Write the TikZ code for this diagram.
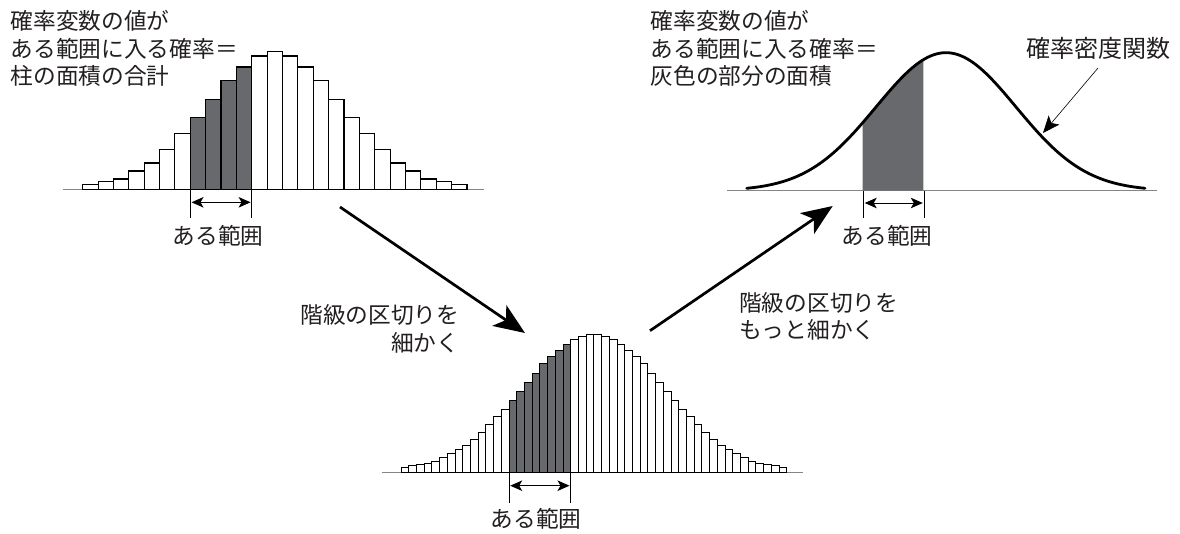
\documentclass[tikz,border=0pt]{standalone}
\usepackage{fontspec}
\setmainfont{Noto Sans CJK JP}
\usetikzlibrary{arrows.meta}
\definecolor{barfill}{HTML}{68696D}
\definecolor{axisgrey}{HTML}{858585}
\definecolor{ink}{HTML}{231F20}
\tikzset{
  lbl/.style={font=\fontsize{22.7}{27.5}\selectfont, text=ink, inner sep=0pt, text height=19.9pt, text depth=2.7pt},
  bar/.style={draw=black, line width=1.1pt, fill=white},
  darkbar/.style={draw=black, line width=1.1pt, fill=barfill},
  axisline/.style={draw=axisgrey, line width=1.3pt},
  rangeline/.style={draw=black, line width=0.9pt},
  rangearrow/.style={line width=1pt, {Stealth[length=12pt,width=10.5pt,inset=3pt]}-{Stealth[length=12pt,width=10.5pt,inset=3pt]}},
  bigarrow/.style={line width=2.7pt, -{Stealth[length=31pt,width=25pt,inset=8pt]}},
  thinarrow/.style={line width=0.6pt, -{Stealth[length=17pt,width=14pt,inset=4pt]}},
  densitycurve/.style={line width=2.8pt, line cap=round},
}
\begin{document}
\begin{tikzpicture}[x=1pt,y=-1pt]
\useasboundingbox (0,0) rectangle (1180,533);

% ---------- histogram 1 ----------
\draw[axisline] (63,189.7) -- (484,189.7);
\foreach \h [count=\i] in {5.3,8,10.7,18.7,26.7,40.3,56,72,90.3,109.3,122.7,133.7,138.3,133.7,122.7,109.3,90.3,72,56,40.3,26.7,18.7,10.7,8,5.3} {
  \pgfmathsetmacro\xa{82.7+(\i-1)*15.37}
  \pgfmathtruncatemacro\dk{and(\i>7,\i<12)}
  \ifnum\dk=1 \def\sty{darkbar}\else\def\sty{bar}\fi
  \draw[\sty] (\xa,189.7) rectangle ++(15.37,-\h);
}
\coordinate (r1a) at (190.3,189.7);
\coordinate (r1b) at (251.8,189.7);
\coordinate (r1c) at (190.3,218);
\coordinate (r1d) at (251.8,218);
\draw[rangeline] (r1a) -- (r1c);
\draw[rangeline] (r1b) -- (r1d);
\coordinate (r1l) at (191.5,202.3);
\coordinate (r1r) at (250.6,202.3);
\draw[rangearrow] (r1l) -- (r1r);
\node[lbl] (range1) at (218,236) {ある範囲};

% ---------- histogram 2 ----------
\draw[axisline] (381.7,472.3) -- (802.7,472.3);
\foreach \h [count=\i] in {5,6.7,8.3,9.3,11,14.7,19,22.7,27,33,40,47.7,55.7,63,71.7,81,90.3,99,109,115.7,122.3,128,133,136.3,138.3,138.3,136.3,133,128,122.3,115.7,109,99,90.3,81,71.7,63,55.7,47.7,40,33,27,22.7,19,14.7,11,9.3,8.3,6.7,5} {
  \pgfmathsetmacro\xa{401+(\i-1)*7.715}
  \pgfmathtruncatemacro\dk{and(\i>14,\i<23)}
  \ifnum\dk=1 \def\sty{darkbar}\else\def\sty{bar}\fi
  \draw[\sty, line width=0.9pt] (\xa,472.3) rectangle ++(7.715,-\h);
}
\coordinate (r2a) at (509,472.3);
\coordinate (r2b) at (570.7,472.3);
\coordinate (r2c) at (509,502.7);
\coordinate (r2d) at (570.7,502.7);
\draw[rangeline] (r2a) -- (r2c);
\draw[rangeline] (r2b) -- (r2d);
\coordinate (r2l) at (510.2,485.7);
\coordinate (r2r) at (569.5,485.7);
\draw[rangearrow] (r2l) -- (r2r);
\node[lbl] (range2) at (536,519) {ある範囲};

% ---------- density curve ----------
\draw[axisline] (727,190.7) -- (1157,190.7);
\fill[barfill] plot[domain=-1.19:-0.324, samples=40] ({946+70*\x}, {190.7-138*exp(-\x*\x/2)}) -- (923.3,190.7) -- (862.7,190.7) -- cycle;
\draw[densitycurve] plot[domain=-2.847:2.843, samples=160, smooth] ({946+70*\x}, {190.7-138*exp(-\x*\x/2)});
\coordinate (r3a) at (863.5,190.7);
\coordinate (r3b) at (924,190.7);
\coordinate (r3c) at (863.5,218);
\coordinate (r3d) at (924,218);
\draw[rangeline] (r3a) -- (r3c);
\draw[rangeline] (r3b) -- (r3d);
\coordinate (r3l) at (864.7,203);
\coordinate (r3r) at (922.8,203);
\draw[rangearrow] (r3l) -- (r3r);
\node[lbl] (range3) at (887,236) {ある範囲};

% ---------- texts ----------
\node[lbl, anchor=west] (tl1) at (10.5,21.3) {確率変数の値が};
\node[lbl, anchor=west] (tl2) at (10.5,48.5) {ある範囲に入る確率＝};
\node[lbl, anchor=west] (tl3) at (10.5,76) {柱の面積の合計};

\node[lbl, anchor=west] (tr1) at (650.5,21.3) {確率変数の値が};
\node[lbl, anchor=west] (tr2) at (650.5,48.5) {ある範囲に入る確率＝};
\node[lbl, anchor=west] (tr3) at (650.5,76) {灰色の部分の面積};

\node[lbl, anchor=west, font=\fontsize{24}{28}\selectfont] (pdf) at (1026.5,48.8) {確率密度関数};

\node[lbl, anchor=east] (fine1a) at (459.5,315) {階級の区切りを};
\node[lbl, anchor=east] (fine1b) at (459.5,343.3) {細かく};

\node[lbl, anchor=west] (fine2a) at (739,302.5) {階級の区切りを};
\node[lbl, anchor=west] (fine2b) at (739,330) {もっと細かく};

% ---------- arrows ----------
\coordinate (a1s) at (340,207);
\coordinate (a1e) at (525,333);
\coordinate (a2s) at (650,330.7);
\coordinate (a2e) at (832.7,206);
\draw[bigarrow] (a1s) -- (a1e);
\draw[bigarrow] (a2s) -- (a2e);
\coordinate (pdfs) at (1098,68);
\coordinate (pdfe) at (1043,133);
\draw[thinarrow] (pdfs) -- (pdfe);
\end{tikzpicture}
\end{document}
